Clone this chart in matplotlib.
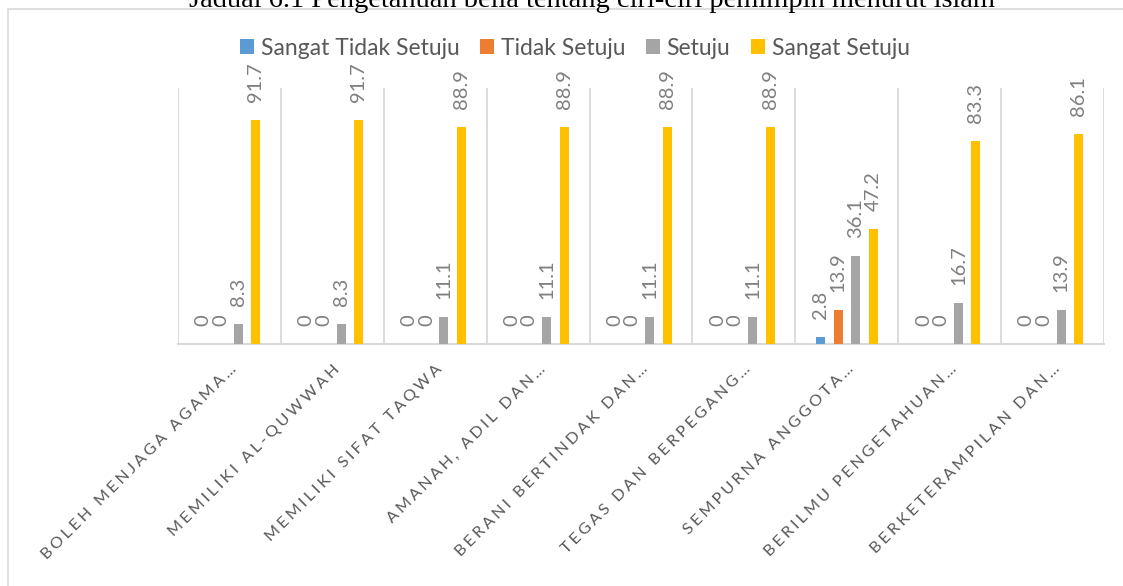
import numpy as np
from matplotlib import pyplot as plt
from matplotlib.patches import Rectangle

# data
title = "Jadual 6.1 Pengetahuan belia tentang ciri-ciri pemimpin menurut islam"
categories = ["BOLEH MENJAGA AGAMA…", "MEMILIKI AL-QUWWAH", "MEMILIKI SIFAT TAQWA",
              "AMANAH, ADIL DAN…", "BERANI BERTINDAK DAN…", "TEGAS DAN BERPEGANG…",
              "SEMPURNA ANGGOTA…", "BERILMU PENGETAHUAN…", "BERKETERAMPILAN DAN…"]
series_names = ["Sangat Tidak Setuju", "Tidak Setuju", "Setuju", "Sangat Setuju"]
sangat_tidak_setuju = [0, 0, 0, 0, 0, 0, 2.8, 0, 0]
tidak_setuju = [0, 0, 0, 0, 0, 0, 13.9, 0, 0]
setuju = [8.3, 8.3, 11.1, 11.1, 11.1, 11.1, 36.1, 16.7, 13.9]
sangat_setuju = [91.7, 91.7, 88.9, 88.9, 88.9, 88.9, 47.2, 83.3, 86.1]
colors = ['#5B9BD5', '#ED7D31', '#A5A5A5', '#FFC000']

all_series = [sangat_tidak_setuju, tidak_setuju, setuju, sangat_setuju]

fig = plt.figure(figsize=(11.23, 5.86), dpi=100)
ax = fig.add_axes([0.1585, 0.413, 0.8246, 0.437])

x = np.arange(len(categories))
step = 0.17
w = 0.088
for k in range(4):
    vals = all_series[k]
    xs = x + (k - 1.5) * step
    ax.bar(xs, vals, width=w, color=colors[k], label=series_names[k], zorder=3)
    for xi, v in zip(xs, vals):
        ax.annotate("%g" % v, (xi, v), xytext=(0, 13), textcoords='offset points',
                    rotation=90, ha='center', va='bottom', fontsize=14.5,
                    color='#7F7F7F', family=['Lato', 'DejaVu Sans'])

ax.set_xlim(-0.5, len(categories) - 0.5)
ax.set_ylim(0, 105)
for b in np.arange(len(categories) + 1) - 0.5:
    ax.axvline(b, color='#D9D9D9', lw=1.3, zorder=1)
for s in ['top', 'right', 'left']:
    ax.spines[s].set_visible(False)
ax.spines['bottom'].set_color('#D9D9D9')
ax.spines['bottom'].set_linewidth(1.5)
ax.set_yticks([])
ax.set_xticks(x)
# letter-spaced labels
spaced = ['\u2009\u200a'.join(c) for c in categories]
ax.set_xticklabels(spaced, rotation=45, ha='right', rotation_mode='anchor',
                   fontsize=11.7, color='#595959', family=['Lato', 'DejaVu Sans'])
ax.tick_params(axis='x', length=0, pad=13)

leg = fig.legend(loc='center', bbox_to_anchor=(0.512, 0.918), ncol=4, frameon=False,
                 handlelength=0.6, handleheight=0.6, handletextpad=0.3, columnspacing=0.9,
                 prop={'family': 'Lato', 'size': 16.5})
for t in leg.get_texts():
    t.set_color('#595959')

fig.add_artist(Rectangle((8 / 1123, -0.05), 1.2, 1 - 9 / 586 + 0.05, transform=fig.transFigure,
                         fill=False, ec='#D9D9D9', lw=1.2))
fig.text(0.527, 1 - 7 / 586, title, ha='center', va='baseline', fontsize=20.5,
         family='Liberation Serif', color='black')

fig.savefig('out.png', dpi=100)
